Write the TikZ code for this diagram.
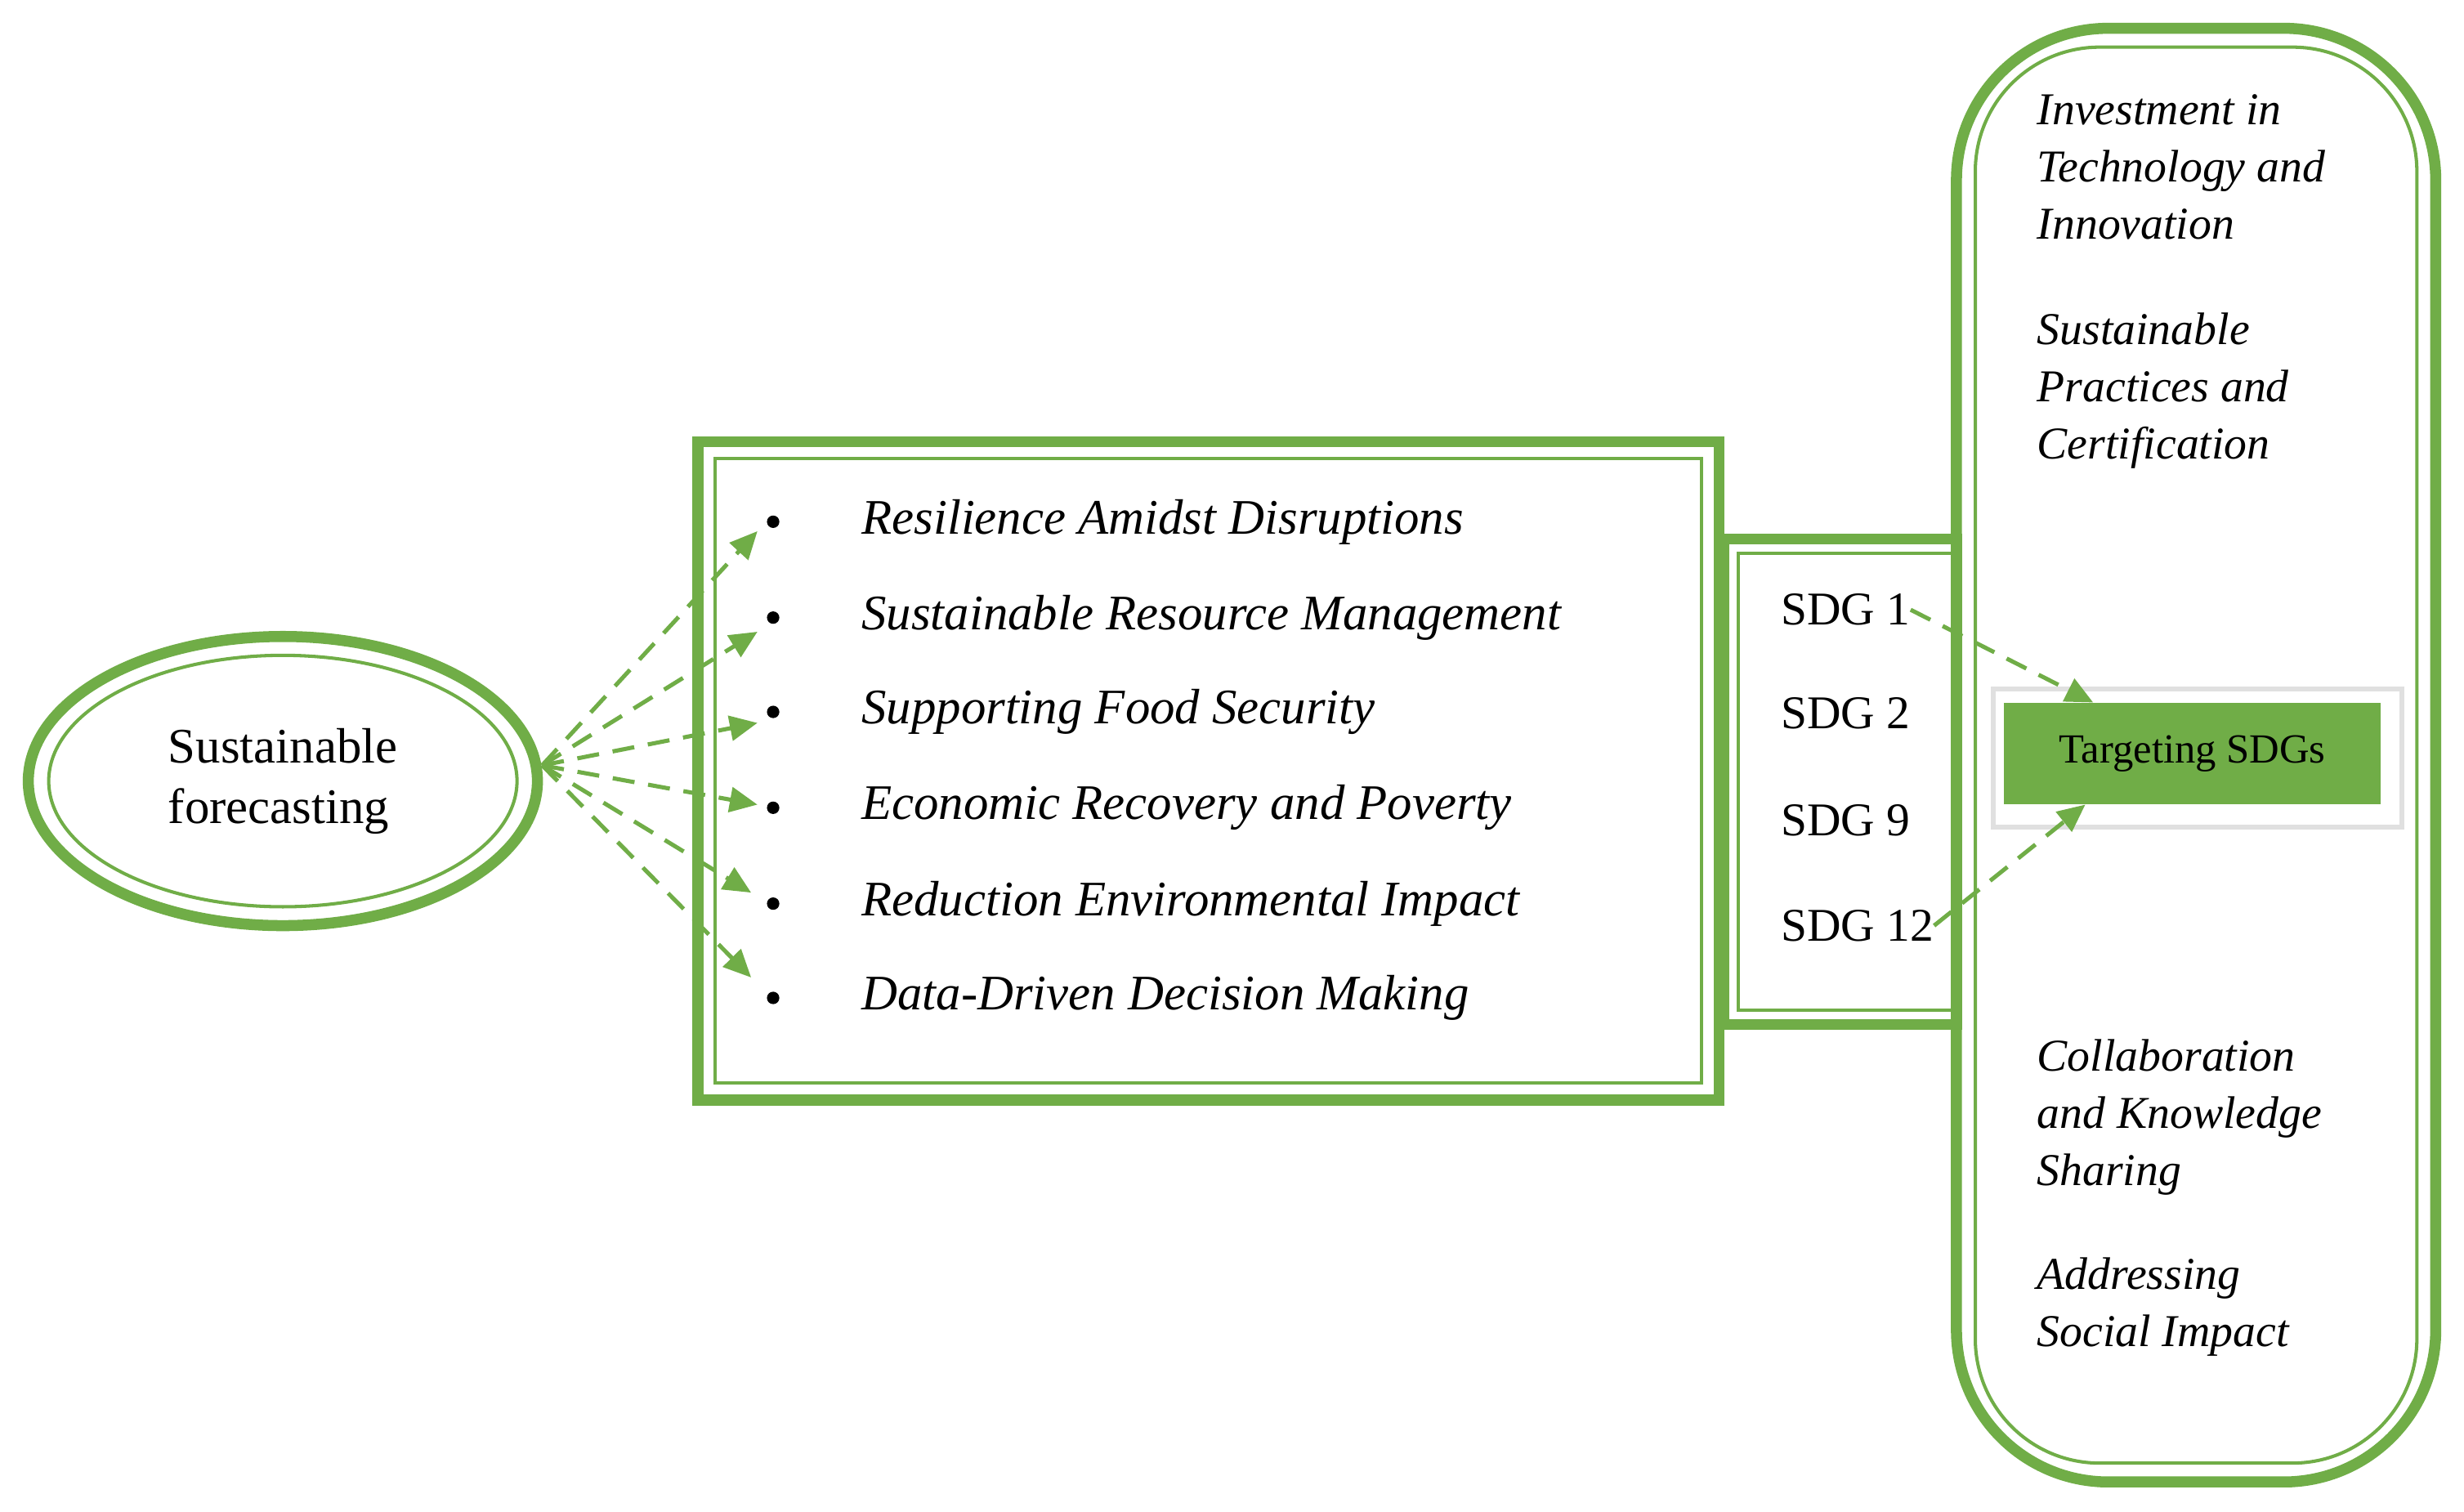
\documentclass[tikz,border=0pt]{standalone}
\usepackage{fontspec}
\setmainfont{Liberation Serif}
\usetikzlibrary{shapes.geometric,arrows.meta}
\definecolor{g}{RGB}{112,173,71}
\begin{document}
\begin{tikzpicture}[x=0.02cm,y=-0.02cm,
  thick/.style={draw=g,line width=4pt},
  thin/.style={draw=g,line width=1.2pt},
  arr/.style={draw=g,line width=1.5pt,dash pattern=on 8pt off 5pt,-{Triangle[length=10pt,width=9pt]}},
  it/.style={font=\fontsize{18}{20}\selectfont\itshape,anchor=west,inner sep=0},
  rt/.style={font=\fontsize{16.5}{20.7}\selectfont\itshape,anchor=north west,align=left,inner sep=0},
  sdg/.style={font=\fontsize{17}{20}\selectfont,anchor=west,inner sep=0}]
\useasboundingbox (0,0) rectangle (1568,962);
% ellipse
\node[ellipse,thick,minimum width=324*0.02cm,minimum height=184*0.02cm] (sf) at (180,497) {};
\node[ellipse,thin,minimum width=298*0.02cm,minimum height=160*0.02cm,align=left,font=\fontsize{18}{22}\selectfont] (sfi) at (180,497) {Sustainable\\forecasting};
% middle box
\draw[thick] (444,281) rectangle (1094,700);
\draw[thin] (455,292) rectangle (1083,689);
% sdg box
\draw[thick] (1097,343) rectangle (1245,652);
\draw[thin] (1106,352) rectangle (1245,643);
% right box
\draw[thick,rounded corners=55] (1245,18) rectangle (1550,943);
\draw[thin,rounded corners=45] (1257,30) rectangle (1538,931);
% targeting
\fill[black!12] (1267,437) rectangle (1530,528);
\fill[white] (1270,440) rectangle (1527,525);
\node[fill=g,minimum width=240*0.02cm,minimum height=65*0.02cm,inner sep=0,font=\fontsize{15}{18}\selectfont] (tg) at (1395,479.5) {Targeting SDGs};
% bullets
\foreach \y/\t/\n in {332/Resilience Amidst Disruptions/b1,393/Sustainable Resource Management/b2,453/Supporting Food Security/b3,514/Economic Recovery and Poverty/b4,575/Reduction Environmental Impact/b5,635/Data-Driven Decision Making/b6}{
  \node[circle,fill=black,inner sep=0,minimum size=4.5pt] (\n) at (492,\y) {};
  \node[it] at (548,\y) {\t};
}
\coordinate (s) at (345,487);
\coordinate (e1) at (482,338); \coordinate (e2) at (482,402);
\coordinate (e3) at (482,460); \coordinate (e4) at (482,512);
\coordinate (e5) at (478,568); \coordinate (e6) at (478,622);
\foreach \e in {e1,e2,e3,e4,e5,e6} \draw[arr] (s) -- (\e);
% sdg
\node[sdg] (d1) at (1133,388) {SDG 1};
\node[sdg] (d2) at (1133,454) {SDG 2};
\node[sdg] (d9) at (1133,522) {SDG 9};
\node[sdg] (d12) at (1133,589) {SDG 12};
\draw[arr] (d1.east) -- (1332,447);
\draw[arr] (d12.east) -- (1327,512);
% right texts
\node[rt] (r1) at (1296,60) {Investment in\\Technology and\\Innovation};
\node[rt] (r2) at (1296,199) {Sustainable\\Practices and\\Certification};
\node[rt] (r3) at (1296,661) {Collaboration\\and Knowledge\\Sharing};
\node[rt] (r4) at (1296,800) {Addressing\\Social Impact};
\end{tikzpicture}
\end{document}
